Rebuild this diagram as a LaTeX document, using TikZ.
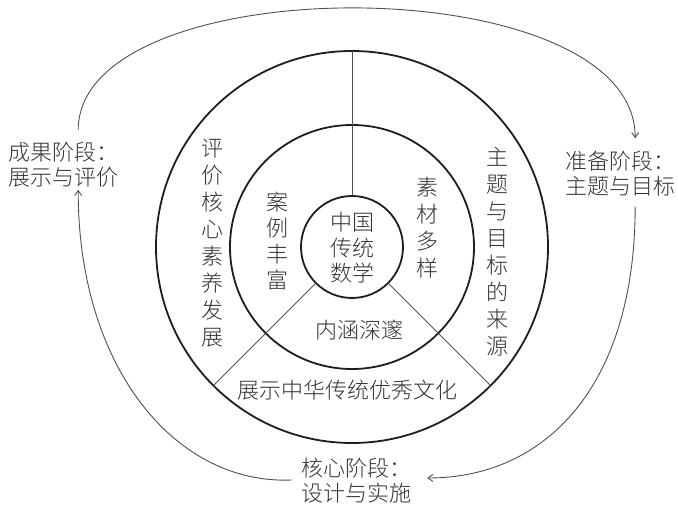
\documentclass[tikz,border=0pt]{standalone}
\usepackage{fontspec}
\setmainfont{Noto Sans CJK SC}[UprightFont=* Light]
\usetikzlibrary{arrows.meta}
\definecolor{txt}{HTML}{333333}
\definecolor{ln}{HTML}{1E1E1E}
\definecolor{thin}{HTML}{505050}
\begin{document}
\begin{tikzpicture}[x=1pt,y=1pt,
  ring/.style={draw=ln, line width=1.8pt, circle, inner sep=0pt, outer sep=0pt},
  lbl/.style={text=txt, font=\fontsize{22}{25}\selectfont, align=center, inner sep=2pt},
  stack/.style={text=txt, font=\fontsize{22}{27}\selectfont, align=center, inner sep=2pt},
  spoke/.style={draw=thin, line width=0.9pt},
  arr/.style={draw=thin, line width=0.9pt, -{Straight Barb[length=5pt,width=7pt]}}
]
\useasboundingbox (0,0) rectangle (678,507);
% rings
\node[ring, minimum size=392pt] (outer) at (352,260) {};
\node[ring, minimum size=244pt] (mid) at (352,260) {};
\node[ring, minimum size=102pt] (inner) at (352,260) {};
% spokes
\draw[spoke] (inner.90) -- (outer.90);
\draw[spoke] (inner.225) -- (outer.225);
\draw[spoke] (inner.315) -- (outer.315);
% texts inside
\node[lbl, font=\fontsize{22}{25.5}\selectfont] (core) at (352,259) {中国\\传统\\数学};
\node[stack, font=\fontsize{22}{26}\selectfont] (case) at (277,266) {案\\例\\丰\\富};
\node[stack] (mat) at (427,279) {素\\材\\多\\样};
\node[lbl] (conn) at (359,177) {内涵深邃};
\node[lbl] (show) at (347,117) {展示中华传统优秀文化};
\node[stack] (eval) at (212,264) {评\\价\\核\\心\\素\\养\\发\\展};
\node[stack] (src) at (497,255) {主\\题\\与\\目\\标\\的\\来\\源};
% stage labels
\node[lbl, align=left, anchor=west] (lblL) at (6,342) {成果阶段：\\展示与评价};
\node[lbl, align=left, anchor=west] (lblR) at (563,333) {准备阶段：\\主题与目标};
\node[lbl, align=left] (lblB) at (356,26) {核心阶段：\\设计与实施};
% cycle arrows
\draw[arr] ([xshift=15pt,yshift=10pt]lblL.north) .. controls (78,541) and (635,541) .. ([xshift=15pt,yshift=11pt]lblR.north);
\draw[arr] ([xshift=15pt,yshift=-8pt]lblR.south) .. controls (635,120) and (545,29) .. ([xshift=14pt,yshift=3pt]lblB.east);
\draw[arr] ([xshift=-7pt,yshift=1pt]lblB.west) .. controls (175,22) and (78,140) .. ([xshift=15pt]lblL.south);
\end{tikzpicture}
\end{document}
